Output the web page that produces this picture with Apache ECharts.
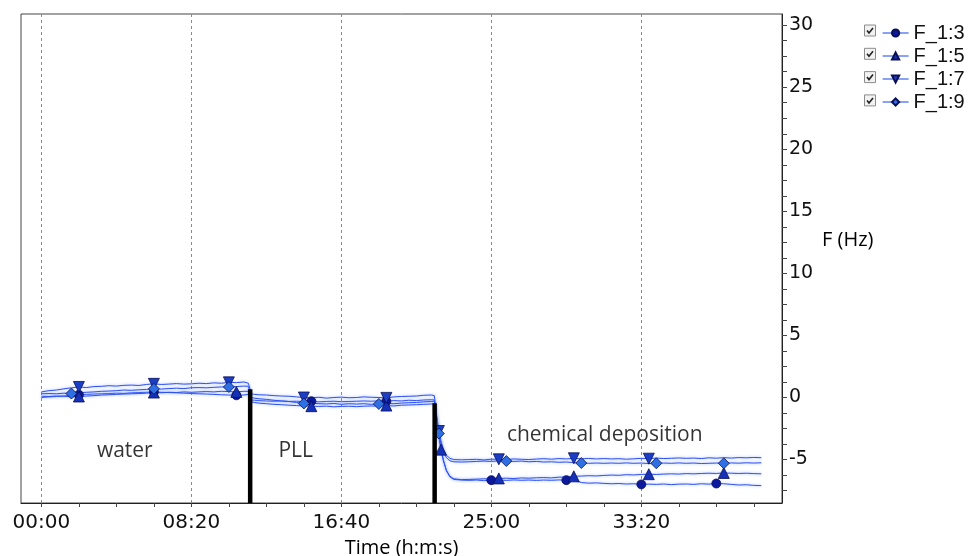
<!DOCTYPE html>
<html>
<head>
<meta charset="utf-8">
<script src="https://cdn.jsdelivr.net/npm/echarts@6/dist/echarts.min.js"></script>
<style>
  html, body { margin: 0; padding: 0; background: #fff; }
  #chart { width: 969px; height: 556px; }
</style>
</head>
<body>
<div id="chart"></div>
<script>
// Sample times (s) shared by all four frequency traces
const timeSec = [
  0, 25, 50, 75, 100, 125, 150, 175, 200, 225, 250, 275, 300, 325, 350, 375, 400, 425, 450, 475, 500, 525, 550, 575, 600, 625, 650, 675,
  690, 700, 710,
  725, 750, 775, 800, 825, 850, 875, 900, 925, 950, 975, 1000, 1025, 1050, 1075, 1100, 1125, 1150, 1175, 1200, 1225, 1250, 1275, 1300,
  1310, 1318, 1325, 1332, 1340, 1350, 1362, 1375,
  1400, 1425, 1450, 1475, 1500, 1525, 1550, 1575, 1600, 1625,
  1650, 1675, 1700, 1725, 1750, 1775, 1800, 1825, 1850, 1875,
  1900, 1925, 1950, 1975, 2000, 2025, 2050, 2075, 2100, 2125,
  2150, 2175, 2200, 2225, 2250, 2275, 2300, 2325, 2350, 2375,
  2400
];

// Frequency shift (Hz) of each overtone
const f13 = [
  0.00, 0.05, 0.08, 0.12, 0.18, 0.22, 0.25, 0.28, 0.30, 0.32, 0.35, 0.33, 0.38, 0.40, 0.42, 0.45, 0.42, 0.40, 0.38, 0.35, 0.32, 0.30, 0.28, 0.25, 0.22, 0.20, 0.18, 0.20,
  0.25, -0.20, -0.22,
  -0.25, -0.28, -0.30, -0.28, -0.32, -0.30, -0.33, -0.30, -0.35, -0.32, -0.30, -0.34, -0.32, -0.30, -0.28, -0.30, -0.27, -0.30, -0.25, -0.28, -0.22, -0.25, -0.20, -0.18,
  -0.20, -1.6, -3.0, -4.1, -5.0, -5.9, -6.4, -6.6,
  -6.65, -6.68, -6.65, -6.70, -6.66, -6.65, -6.68, -6.64, -6.67, -6.65,
  -6.68, -6.65, -6.67, -6.64, -6.66, -6.65, -6.85, -6.90, -6.88, -6.92,
  -6.95, -6.93, -6.97, -6.95, -7.00, -6.98, -7.00, -6.97, -7.02, -6.98,
  -6.97, -7.00, -6.95, -6.98, -6.93, -6.95, -7.00, -7.05, -7.03, -7.08,
  -7.10
];
const f15 = [
  0.10, 0.08, 0.12, 0.10, 0.05, 0.08, 0.12, 0.15, 0.20, 0.22, 0.25, 0.28, 0.30, 0.32, 0.35, 0.40, 0.38, 0.42, 0.40, 0.45, 0.42, 0.45, 0.48, 0.45, 0.50, 0.48, 0.45, 0.50,
  0.50, -0.35, -0.40,
  -0.45, -0.50, -0.55, -0.58, -0.62, -0.65, -0.68, -0.70, -0.72, -0.70, -0.75, -0.72, -0.70, -0.74, -0.70, -0.68, -0.70, -0.65, -0.68, -0.62, -0.60, -0.58, -0.55, -0.52,
  -0.50, -1.8, -3.2, -4.2, -5.1, -5.85, -6.35, -6.55,
  -6.62, -6.60, -6.58, -6.55, -6.57, -6.52, -6.50, -6.53, -6.48, -6.50,
  -6.47, -6.45, -6.48, -6.42, -6.40, -6.35, -6.33, -6.30, -6.32, -6.28,
  -6.25, -6.27, -6.22, -6.24, -6.20, -6.18, -6.20, -6.17, -6.15, -6.17,
  -6.13, -6.15, -6.12, -6.10, -6.12, -6.08, -6.10, -6.12, -6.10, -6.13,
  -6.15
];
const f17 = [
  0.45, 0.55, 0.60, 0.70, 0.78, 0.85, 0.80, 0.88, 0.90, 0.95, 0.92, 0.98, 1.00, 0.97, 1.05, 1.10, 1.05, 1.08, 1.12, 1.08, 1.10, 1.15, 1.12, 1.18, 1.15, 1.22, 1.20, 1.25,
  1.15, 0.30, 0.25,
  0.22, 0.20, 0.15, 0.12, 0.10, 0.05, 0.00, -0.02, 0.02, -0.05, 0.00, 0.03, -0.02, 0.00, 0.05, 0.02, 0.00, -0.03, 0.05, 0.08, 0.10, 0.12, 0.18, 0.20,
  0.15, -1.5, -2.7, -3.5, -4.15, -4.65, -4.9, -5.0,
  -5.02, -5.00, -4.98, -5.03, -4.97, -4.98, -5.00, -4.95, -4.98, -5.00,
  -4.96, -4.93, -4.97, -4.92, -4.95, -4.90, -4.94, -4.91, -4.95, -4.92,
  -4.95, -4.93, -4.97, -4.94, -4.90, -4.93, -4.88, -4.92, -4.90, -4.87,
  -4.90, -4.88, -4.92, -4.86, -4.89, -4.85, -4.88, -4.84, -4.86, -4.83,
  -4.85
];
const f19 = [
  0.30, 0.32, 0.30, 0.35, 0.32, 0.38, 0.42, 0.45, 0.50, 0.52, 0.55, 0.60, 0.58, 0.62, 0.65, 0.70, 0.68, 0.72, 0.75, 0.72, 0.78, 0.80, 0.78, 0.82, 0.85, 0.85, 0.88, 0.92,
  0.90, 0.00, -0.05,
  -0.10, -0.15, -0.22, -0.28, -0.32, -0.40, -0.48, -0.45, -0.50, -0.52, -0.48, -0.55, -0.50, -0.53, -0.50, -0.55, -0.52, -0.48, -0.50, -0.45, -0.42, -0.40, -0.35, -0.32,
  -0.30, -1.7, -2.9, -3.7, -4.3, -4.85, -5.1, -5.18,
  -5.20, -5.18, -5.15, -5.12, -5.15, -5.10, -5.12, -5.15, -5.12, -5.18,
  -5.15, -5.20, -5.18, -5.22, -5.20, -5.25, -5.28, -5.30, -5.28, -5.30,
  -5.28, -5.30, -5.27, -5.30, -5.28, -5.32, -5.30, -5.28, -5.30, -5.27,
  -5.30, -5.28, -5.32, -5.30, -5.28, -5.30, -5.27, -5.29, -5.26, -5.28,
  -5.26
];

// Times at which each trace carries its marker symbol
const marks13 = [125, 375, 650, 900, 1150, 1500, 1750, 2000, 2250];
const marks15 = [125, 375, 650, 900, 1150, 1332, 1525, 1775, 2025, 2275];
const marks17 = [125, 375, 625, 875, 1150, 1325, 1525, 1775, 2025];
const marks19 = [100, 375, 625, 875, 1125, 1325, 1550, 1800, 2050, 2275];

const seriesNames = ['F_1:3', 'F_1:5', 'F_1:7', 'F_1:9'];

// Axis ticks and labels
const xLabelValues = [0, 500, 1000, 1500, 2000];
const yLabelValues = [-5, 0, 5, 10, 15, 20, 25, 30];

// Solution changes: time (s) and top of the marker bar (Hz)
const changeTimes = [696, 1311];
const changeTops = [0.66, -0.47];

// Phase captions
const phaseNames = ['water', 'PLL', 'chemical deposition'];
const phaseTimes = [278, 848, 1878];
const phaseLevels = [-4.28, -4.28, -3.02];

const Y_MIN = -8.5, Y_MAX = 30.9;
const X_MIN = -68, X_MAX = 2469;

const xTickValues = [];
for (let t = 0; t <= 2400; t += 125) xTickValues.push(t);
const yTickValues = [];
for (let v = -7.5; v <= 30; v += 1.25) yTickValues.push(v);

function mmss(sec) {
  const m = Math.floor(sec / 60), s = Math.round(sec % 60);
  return String(m).padStart(2, '0') + ':' + String(s).padStart(2, '0');
}

function buildTrace(values, marks) {
  return timeSec.map((t, i) => marks.indexOf(t) >= 0
    ? { value: [t, values[i]] }
    : { value: [t, values[i]], symbol: 'none' });
}

const lineColor = '#2d50ee';
const traceStyle = {
  width: 1,
  color: lineColor,
  shadowColor: 'rgba(110,150,255,0.75)',
  shadowBlur: 3
};

const traceDefs = [
  { values: f13, marks: marks13, symbol: 'circle', size: 9, rotate: 0, fill: '#0c189e' },
  { values: f15, marks: marks15, symbol: 'triangle', size: 11, rotate: 0, fill: '#1431b8' },
  { values: f17, marks: marks17, symbol: 'triangle', size: 11, rotate: 180, fill: '#1b3ec6' },
  { values: f19, marks: marks19, symbol: 'diamond', size: 11, rotate: 0, fill: '#2e6fe3' }
];

const series = traceDefs.map((d, k) => ({
  name: seriesNames[k],
  type: 'line',
  data: buildTrace(d.values, d.marks),
  symbol: d.symbol,
  symbolSize: d.size,
  symbolRotate: d.rotate,
  showSymbol: true,
  showAllSymbol: true,
  lineStyle: traceStyle,
  itemStyle: { color: d.fill, borderColor: '#0a0f55', borderWidth: 0.8 },
  emphasis: { disabled: true },
  z: 3
}));

changeTimes.forEach((t, k) => {
  series.push({
    name: 'change' + k,
    type: 'line',
    data: [[t, changeTops[k]], [t, Y_MIN]],
    symbol: 'none',
    lineStyle: { color: '#000', width: 4.5 },
    emphasis: { disabled: true },
    z: 5
  });
});

series.push({
  name: 'phases',
  type: 'scatter',
  data: phaseNames.map((n, k) => ({ name: n, value: [phaseTimes[k], phaseLevels[k]] })),
  symbolSize: 1,
  itemStyle: { color: 'rgba(0,0,0,0)' },
  label: {
    show: true,
    position: 'inside',
    formatter: p => p.name,
    fontFamily: 'Open Sans',
    fontSize: 21,
    color: '#000',
    textBorderWidth: 0
  },
  emphasis: { disabled: true },
  silent: true,
  z: 4
});

const chart = echarts.init(document.getElementById('chart'), null, { renderer: 'canvas' });

// check boxes drawn beside each legend row
const legendRowY = [30, 53.3, 76.6, 99.9];
const checkBoxes = legendRowY.map(y => ({
  type: 'group',
  left: 864,
  top: y - 5.5,
  children: [
    { type: 'rect', shape: { x: 0, y: 0, width: 11, height: 11 },
      style: { fill: '#f2f2f2', stroke: '#8c8c8c', lineWidth: 1 } },
    { type: 'polyline', shape: { points: [[2.5, 5.5], [4.5, 8], [8.5, 3]] },
      style: { stroke: '#222', lineWidth: 1.6, fill: null } }
  ]
}));

// name of the frequency axis, set beside the tick labels
const yAxisTitle = {
  type: 'text',
  left: 822,
  top: 230,
  style: { text: 'F (Hz)', font: '20px "Open Sans"', fill: '#000' }
};

const textDark = '#111';

chart.setOption({
  animation: false,
  backgroundColor: '#fff',
  grid: {
    left: 21, right: 187, top: 14, bottom: 53,
    show: true, borderColor: '#444', borderWidth: 1,
    containLabel: false,
    outerBoundsMode: 'none'
  },
  legend: {
    data: seriesNames,
    orient: 'vertical',
    left: 877,
    top: 18,
    itemWidth: 26,
    itemHeight: 9,
    itemGap: 3,
    selectedMode: false,
    lineStyle: { color: '#3a62f2', width: 1.2 },
    textStyle: { fontFamily: 'Liberation Sans', fontSize: 20, color: textDark, lineHeight: 20 }
  },
  xAxis: [
    {
      type: 'value',
      min: X_MIN, max: X_MAX,
      minInterval: 500, maxInterval: 500, splitNumber: 5,
      axisLine: { show: true, onZero: false, lineStyle: { color: '#222' } },
      axisTick: { show: true, length: 4, customValues: xTickValues, lineStyle: { color: '#444' } },
      axisLabel: {
        customValues: xLabelValues,
        formatter: v => mmss(v),
        margin: 10,
        fontFamily: 'DejaVu Sans', fontSize: 20, color: textDark
      },
      splitLine: { show: false },
      name: 'Time (h:m:s)',
      nameLocation: 'middle',
      nameGap: 32,
      nameTextStyle: { fontFamily: 'Open Sans', fontSize: 20, color: '#000' }
    },
    {
      // dashed vertical grid at the labelled times only
      type: 'value',
      min: X_MIN, max: X_MAX,
      minInterval: 500, maxInterval: 500, splitNumber: 5,
      axisLine: { show: false },
      axisTick: { show: false, customValues: xLabelValues },
      axisLabel: { show: false },
      splitLine: {
        show: true, showMinLine: true, showMaxLine: true,
        lineStyle: { type: [3, 3], color: '#8a8a8a', width: 1 }
      }
    }
  ],
  yAxis: {
    type: 'value',
    position: 'right',
    min: Y_MIN, max: Y_MAX,
    minInterval: 5, maxInterval: 5, splitNumber: 8,
    axisLine: { show: true, onZero: false, lineStyle: { color: '#222' } },
    axisTick: { show: true, length: 5, customValues: yTickValues, lineStyle: { color: '#444' } },
    axisLabel: {
      customValues: yLabelValues,
      margin: 7,
      fontFamily: 'DejaVu Sans', fontSize: 19, color: textDark
    },
    splitLine: { show: false }
  },
  graphic: checkBoxes.concat([yAxisTitle]),
  series: series
});
</script>
</body>
</html>
